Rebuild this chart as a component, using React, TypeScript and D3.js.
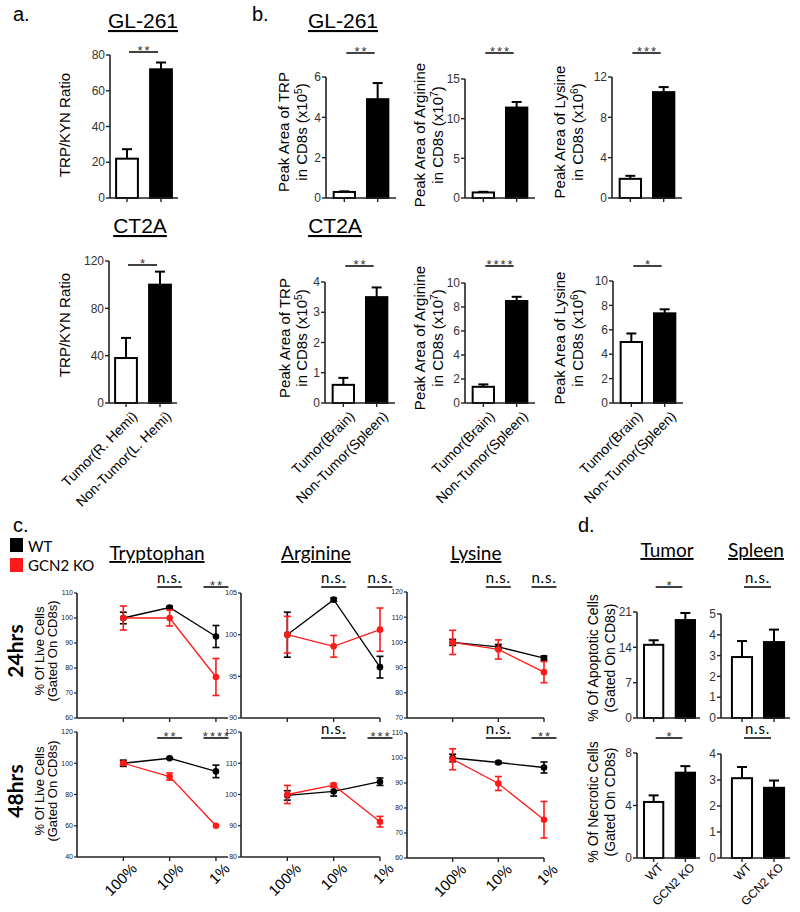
import React from "react";
import * as d3 from "d3";

const SANS = "'Liberation Sans', Arial, Helvetica, sans-serif";
const CAL = "Lato, 'Open Sans', sans-serif";
const AXIS = "#222";
const TICKTXT = "#333";
const RED = "#ff1a1a";

// ---------- Panel a ----------
const aCategories = ["Tumor(R. Hemi)", "Non-Tumor(L. Hemi)"];
const aGL261Means = [22, 72];
const aGL261Errors = [5.3, 3.8];
const aGL261Ticks = [0, 20, 40, 60, 80];
const aCT2AMeans = [38, 100];
const aCT2AErrors = [17, 11];
const aCT2ATicks = [0, 40, 80, 120];

// ---------- Panel b ----------
const bCategories = ["Tumor(Brain)", "Non-Tumor(Spleen)"];
const bGLTrpMeans = [0.3, 4.9];
const bGLTrpErrors = [0.03, 0.8];
const bGLTrpTicks = [0, 2, 4, 6];
const bGLArgMeans = [0.7, 11.4];
const bGLArgErrors = [0.08, 0.7];
const bGLArgTicks = [0, 5, 10, 15];
const bGLLysMeans = [1.9, 10.5];
const bGLLysErrors = [0.3, 0.5];
const bGLLysTicks = [0, 4, 8, 12];
const bCTTrpMeans = [0.6, 3.5];
const bCTTrpErrors = [0.23, 0.32];
const bCTTrpTicks = [0, 1, 2, 3, 4];
const bCTArgMeans = [1.35, 8.5];
const bCTArgErrors = [0.2, 0.35];
const bCTArgTicks = [0, 2, 4, 6, 8, 10];
const bCTLysMeans = [5.0, 7.35];
const bCTLysErrors = [0.7, 0.33];
const bCTLysTicks = [0, 2, 4, 6, 8, 10];

// ---------- Panel c ----------
const cConcentrations = ["100%", "10%", "1%"];
const trp24WT = [100, 104.2, 92.6];
const trp24WTErr = [2.3, 0.5, 4.4];
const trp24KO = [100, 100, 76.4];
const trp24KOErr = [4.8, 3.2, 7.4];
const trp24Ticks = [60, 70, 80, 90, 100, 110];
const trp24Sig = ["", "n.s.", "**"];
const arg24WT = [100, 104.2, 96.1];
const arg24WTErr = [2.7, 0.2, 1.3];
const arg24KO = [100, 98.6, 100.6];
const arg24KOErr = [2.2, 1.3, 2.6];
const arg24Ticks = [90, 95, 100, 105];
const arg24Sig = ["", "n.s.", "n.s."];
const lys24WT = [100, 98.2, 93.8];
const lys24WTErr = [1.2, 1.0, 0.8];
const lys24KO = [100, 97.2, 88.2];
const lys24KOErr = [4.8, 3.8, 4.2];
const lys24Ticks = [70, 80, 90, 100, 110, 120];
const lys24Sig = ["", "n.s.", "n.s."];
const trp48WT = [100, 103.2, 94.8];
const trp48WTErr = [2.0, 0.5, 4.0];
const trp48KO = [100, 91.5, 60];
const trp48KOErr = [1.0, 2.3, 0];
const trp48Ticks = [40, 60, 80, 100, 120];
const trp48Sig = ["", "**", "****"];
const arg48WT = [99.7, 101, 104.1];
const arg48WTErr = [1.5, 1.5, 1.2];
const arg48KO = [100, 103, 91.3];
const arg48KOErr = [2.9, 0.5, 1.7];
const arg48Ticks = [80, 90, 100, 110, 120];
const arg48Sig = ["", "n.s.", "***"];
const lys48WT = [100, 98.2, 96.2];
const lys48WTErr = [1.5, 0.5, 2.2];
const lys48KO = [99.5, 89.8, 75.3];
const lys48KOErr = [4.2, 2.8, 7.3];
const lys48Ticks = [60, 70, 80, 90, 100, 110];
const lys48Sig = ["", "n.s.", "**"];

// ---------- Panel d ----------
const dCategories = ["WT", "GCN2 KO"];
const dTumorApopMeans = [14.5, 19.4];
const dTumorApopErrors = [0.9, 1.4];
const dTumorApopTicks = [0, 7, 14, 21];
const dSpleenApopMeans = [2.93, 3.65];
const dSpleenApopErrors = [0.77, 0.6];
const dSpleenApopTicks = [0, 1, 2, 3, 4, 5];
const dTumorNecMeans = [4.27, 6.5];
const dTumorNecErrors = [0.5, 0.5];
const dTumorNecTicks = [0, 4, 8];
const dSpleenNecMeans = [3.07, 2.7];
const dSpleenNecErrors = [0.43, 0.28];
const dSpleenNecTicks = [0, 1, 2, 3, 4];

type LabelLine = string | [string, string, string];

function RotLabel({ lines, xs, cy, size, font = SANS, weight = "normal" }: any) {
  return (
    <g>
      {lines.map((ln: LabelLine, i: number) => (
        <text
          key={i}
          transform={`translate(${xs[i]},${cy}) rotate(-90)`}
          textAnchor="middle"
          dy="0.35em"
          fontSize={size}
          fontFamily={font}
          fontWeight={weight}
          fill="#000"
        >
          {typeof ln === "string" ? (
            ln
          ) : (
            <>
              {ln[0]}
              <tspan dy={-size * 0.38} fontSize={size * 0.68}>{ln[1]}</tspan>
              <tspan dy={size * 0.38}>{ln[2]}</tspan>
            </>
          )}
        </text>
      ))}
    </g>
  );
}

function Title({ text, x, y, size = 21, font = SANS }: any) {
  return (
    <text x={x} y={y} textAnchor="middle" fontSize={size} fontFamily={font} textDecoration="underline" fill="#000">
      {text}
    </text>
  );
}

function SigMark({ x1, x2, y, label, font }: any) {
  const isStar = label.indexOf("*") >= 0;
  return (
    <g>
      <line x1={x1} x2={x2} y1={y} y2={y} stroke="#000" strokeWidth={1.5} />
      {isStar ? (
        <text x={(x1 + x2) / 2 + 1} y={y + 3} textAnchor="middle" fontSize={13} fontFamily={SANS} letterSpacing={2} fill="#333">
          {label}
        </text>
      ) : (
        <text x={(x1 + x2) / 2} y={y - 4} textAnchor="middle" fontSize={font || 15} fontFamily={CAL} letterSpacing={0.8} fill="#000">
          {label}
        </text>
      )}
    </g>
  );
}

function BarChart(p: any) {
  const { cats, means, errs, ticks, x0, x1, axisEnd, yTop, yBot, pi, po, sig, sigY, showX, xLabelSize = 14, xLabelDx = 5, xLabelDy = 7 } = p;
  const y = d3.scaleLinear().domain([ticks[0], ticks[ticks.length - 1]]).range([yBot, yTop]);
  const x = d3.scaleBand<string>().domain(cats).range([x0, x1]).paddingInner(pi).paddingOuter(po);
  const bw = x.bandwidth();
  const c = (k: string) => (x(k) as number) + bw / 2;
  const xEnd = axisEnd ?? x1;
  return (
    <g>
      {cats.map((k: string, i: number) => {
        const top = y(means[i]);
        const et = y(means[i] + errs[i]);
        return (
          <g key={k}>
            <line x1={c(k)} x2={c(k)} y1={top} y2={et} stroke="#000" strokeWidth={2} />
            <line x1={c(k) - 5} x2={c(k) + 5} y1={et} y2={et} stroke="#000" strokeWidth={2} />
            <rect
              x={(x(k) as number) + 1}
              y={top}
              width={bw - 2}
              height={yBot - top}
              fill={i === 0 ? "#fff" : "#000"}
              stroke="#000"
              strokeWidth={2}
            />
          </g>
        );
      })}
      <line x1={x0} x2={x0} y1={yTop} y2={yBot} stroke={AXIS} strokeWidth={1.6} />
      <line x1={x0} x2={xEnd} y1={yBot} y2={yBot} stroke={AXIS} strokeWidth={1.6} />
      {ticks.map((t: number) => (
        <g key={t}>
          <line x1={x0 - 4} x2={x0} y1={y(t)} y2={y(t)} stroke={AXIS} strokeWidth={1.4} />
          <text x={x0 - 5} y={y(t)} dy="0.35em" textAnchor="end" fontSize={12} fontFamily={SANS} fill={TICKTXT}>
            {t}
          </text>
        </g>
      ))}
      {cats.map((k: string) => (
        <line key={k} x1={c(k)} x2={c(k)} y1={yBot} y2={yBot + 4} stroke={AXIS} strokeWidth={1.4} />
      ))}
      {showX &&
        cats.map((k: string) => (
          <text
            key={k}
            transform={`translate(${c(k) + xLabelDx},${yBot + xLabelDy}) rotate(-45)`}
            textAnchor="end"
            dy="0.72em"
            fontSize={xLabelSize}
            fontFamily={SANS}
            fill="#000"
          >
            {k}
          </text>
        ))}
      <SigMark x1={c(cats[0]) + 2} x2={c(cats[1]) - 3} y={sigY} label={sig} />
    </g>
  );
}

function LineChart(p: any) {
  const { wt, wtErr, ko, koErr, ticks, x0, x1, idxMax, yTop, yBot, sigs, sigY, showX } = p;
  const y = d3.scaleLinear().domain([ticks[0], ticks[ticks.length - 1]]).range([yBot, yTop]);
  const x = d3.scaleLinear().domain([-1, idxMax]).range([x0, x1]);
  const line = d3
    .line<number>()
    .x((_, i) => x(i))
    .y((d) => y(d));
  const series = [
    { m: wt, e: wtErr, col: "#000" },
    { m: ko, e: koErr, col: RED },
  ];
  return (
    <g>
      <line x1={x0} x2={x0} y1={yTop} y2={yBot} stroke={AXIS} strokeWidth={1.6} />
      <line x1={x0} x2={x1} y1={yBot} y2={yBot} stroke={AXIS} strokeWidth={1.6} />
      {ticks.map((t: number) => (
        <g key={t}>
          <line x1={x0 - 3} x2={x0} y1={y(t)} y2={y(t)} stroke={AXIS} strokeWidth={1.2} />
          <text x={x0 - 4} y={y(t)} dy="0.35em" textAnchor="end" fontSize={7} fontFamily={SANS} fill="#222">
            {t}
          </text>
        </g>
      ))}
      {cConcentrations.map((c, i) => (
        <line key={c} x1={x(i)} x2={x(i)} y1={yBot} y2={yBot + 4} stroke={AXIS} strokeWidth={1.4} />
      ))}
      {series.map((s, si) => (
        <g key={si}>
          <path d={line(s.m) as string} fill="none" stroke={s.col} strokeWidth={1.3} />
          {s.m.map((v: number, i: number) => (
            <g key={i}>
              {s.e[i] > 0 && (
                <g stroke={s.col} strokeWidth={1.6}>
                  <line x1={x(i)} x2={x(i)} y1={y(v - s.e[i])} y2={y(v + s.e[i])} />
                  <line x1={x(i) - 3.5} x2={x(i) + 3.5} y1={y(v + s.e[i])} y2={y(v + s.e[i])} />
                  <line x1={x(i) - 3.5} x2={x(i) + 3.5} y1={y(v - s.e[i])} y2={y(v - s.e[i])} />
                </g>
              )}
              <circle cx={x(i)} cy={y(v)} r={3.3} fill={s.col} />
            </g>
          ))}
        </g>
      ))}
      {sigs.map((s: string, i: number) =>
        s ? <SigMark key={i} x1={x(i) - 12.5} x2={x(i) + 12.5} y={sigY} label={s} /> : null
      )}
      {showX &&
        cConcentrations.map((c, i) => (
          <text
            key={c}
            transform={`translate(${x(i) + 7},${yBot + 5}) rotate(-45)`}
            textAnchor="end"
            dy="0.72em"
            fontSize={15}
            fontFamily={SANS}
            fill="#000"
          >
            {c}
          </text>
        ))}
    </g>
  );
}

export default function App() {
  const aPad = { pi: 0.3, po: 0.15 };
  const bPad = { pi: 0.3, po: 0.2 };
  const dPad = { pi: 0.33, po: 0.19 };
  const dSpPad = { pi: 0.31, po: 0.31 };
  return (
    <svg
      width={800}
      height={912}
      style={{ position: "absolute", left: 0, top: 0, background: "#fff" }}
      xmlns="http://www.w3.org/2000/svg"
    >
      <rect x={0} y={0} width={800} height={912} fill="#fff" />
      {/* ---------- a ---------- */}
      <text x={13} y={21} fontSize={20} fontFamily={SANS}>a.</text>
      <Title text="GL-261" x={143} y={28} />
      <RotLabel lines={["TRP/KYN Ratio"]} xs={[65]} cy={125} size={15} />
      <BarChart cats={aCategories} means={aGL261Means} errs={aGL261Errors} ticks={aGL261Ticks}
        x0={110} x1={178} yTop={55} yBot={198} {...aPad} sig="**" sigY={52} showX={false} />
      <Title text="CT2A" x={140} y={233} />
      <RotLabel lines={["TRP/KYN Ratio"]} xs={[65]} cy={325} size={15} />
      <BarChart cats={aCategories} means={aCT2AMeans} errs={aCT2AErrors} ticks={aCT2ATicks}
        x0={109} x1={177} yTop={261} yBot={403} {...aPad} sig="*" sigY={265} showX={true} />

      {/* ---------- b ---------- */}
      <text x={252} y={21} fontSize={20} fontFamily={SANS}>b.</text>
      <Title text="GL-261" x={343} y={28} />
      <RotLabel lines={["Peak Area of TRP", ["in CD8s (x10", "5", ")"]]} xs={[284, 302]} cy={132} size={15} />
      <BarChart cats={bCategories} means={bGLTrpMeans} errs={bGLTrpErrors} ticks={bGLTrpTicks}
        x0={326} x1={396} yTop={77} yBot={198} {...bPad} sig="**" sigY={53} showX={false} />
      <RotLabel lines={["Peak Area of Arginine", ["in CD8s (x10", "7", ")"]]} xs={[420, 438]} cy={135} size={15} />
      <BarChart cats={bCategories} means={bGLArgMeans} errs={bGLArgErrors} ticks={bGLArgTicks}
        x0={465} x1={535} yTop={79} yBot={198} {...bPad} sig="***" sigY={53} showX={false} />
      <RotLabel lines={["Peak Area of Lysine", ["in CD8s (x10", "6", ")"]]} xs={[560, 578]} cy={132} size={15} />
      <BarChart cats={bCategories} means={bGLLysMeans} errs={bGLLysErrors} ticks={bGLLysTicks}
        x0={612} x1={682} yTop={77} yBot={198} {...bPad} sig="***" sigY={53} showX={false} />

      <Title text="CT2A" x={335} y={233} />
      <RotLabel lines={["Peak Area of TRP", ["in CD8s (x10", "5", ")"]]} xs={[285, 302]} cy={338} size={15} />
      <BarChart cats={bCategories} means={bCTTrpMeans} errs={bCTTrpErrors} ticks={bCTTrpTicks}
        x0={325} x1={395} yTop={282} yBot={403} {...bPad} sig="**" sigY={266} showX={true} />
      <RotLabel lines={["Peak Area of Arginine", ["in CD8s (x10", "7", ")"]]} xs={[420, 438]} cy={338} size={15} />
      <BarChart cats={bCategories} means={bCTArgMeans} errs={bCTArgErrors} ticks={bCTArgTicks}
        x0={465} x1={535} yTop={283} yBot={403} {...bPad} sig="****" sigY={266} showX={true} />
      <RotLabel lines={["Peak Area of Lysine", ["in CD8s (x10", "6", ")"]]} xs={[560, 578]} cy={338} size={15} />
      <BarChart cats={bCategories} means={bCTLysMeans} errs={bCTLysErrors} ticks={bCTLysTicks}
        x0={613} x1={683} yTop={281} yBot={403} {...bPad} sig="*" sigY={266} showX={true} />

      {/* ---------- c ---------- */}
      <text x={13} y={532} fontSize={20} fontFamily={SANS}>c.</text>
      <rect x={10} y={538} width={13} height={14} fill="#000" />
      <text x={28} y={552} fontSize={15} fontFamily={CAL}>WT</text>
      <rect x={10} y={558} width={13} height={14} fill={RED} />
      <text x={28} y={571} fontSize={15} fontFamily={CAL}>GCN2 KO</text>
      <Title text="Tryptophan" x={157} y={560} size={19} font={CAL} />
      <Title text="Arginine" x={316} y={560} size={19} font={CAL} />
      <Title text="Lysine" x={476} y={560} size={19} font={CAL} />

      <RotLabel lines={["24hrs"]} xs={[16]} cy={651} size={21} font={CAL} weight="bold" />
      <RotLabel lines={["% Of Live Cells", "(Gated On CD8s)"]} xs={[39, 52]} cy={651} size={13} />
      <RotLabel lines={["48hrs"]} xs={[16]} cy={791} size={21} font={CAL} weight="bold" />
      <RotLabel lines={["% Of Live Cells", "(Gated On CD8s)"]} xs={[39, 52]} cy={791} size={13} />

      <LineChart wt={trp24WT} wtErr={trp24WTErr} ko={trp24KO} koErr={trp24KOErr} ticks={trp24Ticks}
        x0={77} x1={228} idxMax={2.26} yTop={593} yBot={718} sigs={trp24Sig} sigY={587} showX={false} />
      <LineChart wt={arg24WT} wtErr={arg24WTErr} ko={arg24KO} koErr={arg24KOErr} ticks={arg24Ticks}
        x0={241} x1={380} idxMax={2} yTop={593} yBot={718} sigs={arg24Sig} sigY={587} showX={false} />
      <LineChart wt={lys24WT} wtErr={lys24WTErr} ko={lys24KO} koErr={lys24KOErr} ticks={lys24Ticks}
        x0={407} x1={544} idxMax={2} yTop={592} yBot={718} sigs={lys24Sig} sigY={587} showX={false} />
      <LineChart wt={trp48WT} wtErr={trp48WTErr} ko={trp48KO} koErr={trp48KOErr} ticks={trp48Ticks}
        x0={77} x1={228} idxMax={2.26} yTop={732} yBot={857} sigs={trp48Sig} sigY={738} showX={true} />
      <LineChart wt={arg48WT} wtErr={arg48WTErr} ko={arg48KO} koErr={arg48KOErr} ticks={arg48Ticks}
        x0={241} x1={380} idxMax={2} yTop={732} yBot={857} sigs={arg48Sig} sigY={738} showX={true} />
      <LineChart wt={lys48WT} wtErr={lys48WTErr} ko={lys48KO} koErr={lys48KOErr} ticks={lys48Ticks}
        x0={407} x1={544} idxMax={2} yTop={733} yBot={858} sigs={lys48Sig} sigY={738} showX={true} />

      {/* ---------- d ---------- */}
      <text x={578} y={532} fontSize={20} fontFamily={SANS}>d.</text>
      <Title text="Tumor" x={667} y={557} size={19} font={CAL} />
      <Title text="Spleen" x={756} y={557} size={19} font={CAL} />
      <RotLabel lines={["% Of Apoptotic Cells", "(Gated On CD8s)"]} xs={[593, 610]} cy={658} size={14} />
      <BarChart cats={dCategories} means={dTumorApopMeans} errs={dTumorApopErrors} ticks={dTumorApopTicks}
        x0={637} x1={702} axisEnd={700} yTop={612} yBot={718} {...dPad} sig="*" sigY={587} showX={false} />
      <BarChart cats={dCategories} means={dSpleenApopMeans} errs={dSpleenApopErrors} ticks={dSpleenApopTicks}
        x0={721} x1={795} axisEnd={790} yTop={614} yBot={718} {...dSpPad} sig="n.s." sigY={587} showX={false} />
      <RotLabel lines={["% Of Necrotic Cells", "(Gated On CD8s)"]} xs={[593, 610]} cy={802} size={14} />
      <BarChart cats={dCategories} means={dTumorNecMeans} errs={dTumorNecErrors} ticks={dTumorNecTicks}
        x0={637} x1={702} axisEnd={700} yTop={753} yBot={858} {...dPad} sig="*" sigY={738} showX={true}
        xLabelSize={12} xLabelDx={4} xLabelDy={4} />
      <BarChart cats={dCategories} means={dSpleenNecMeans} errs={dSpleenNecErrors} ticks={dSpleenNecTicks}
        x0={721} x1={795} axisEnd={790} yTop={754} yBot={858} {...dSpPad} sig="n.s." sigY={738} showX={true}
        xLabelSize={12} xLabelDx={4} xLabelDy={4} />
    </svg>
  );
}
